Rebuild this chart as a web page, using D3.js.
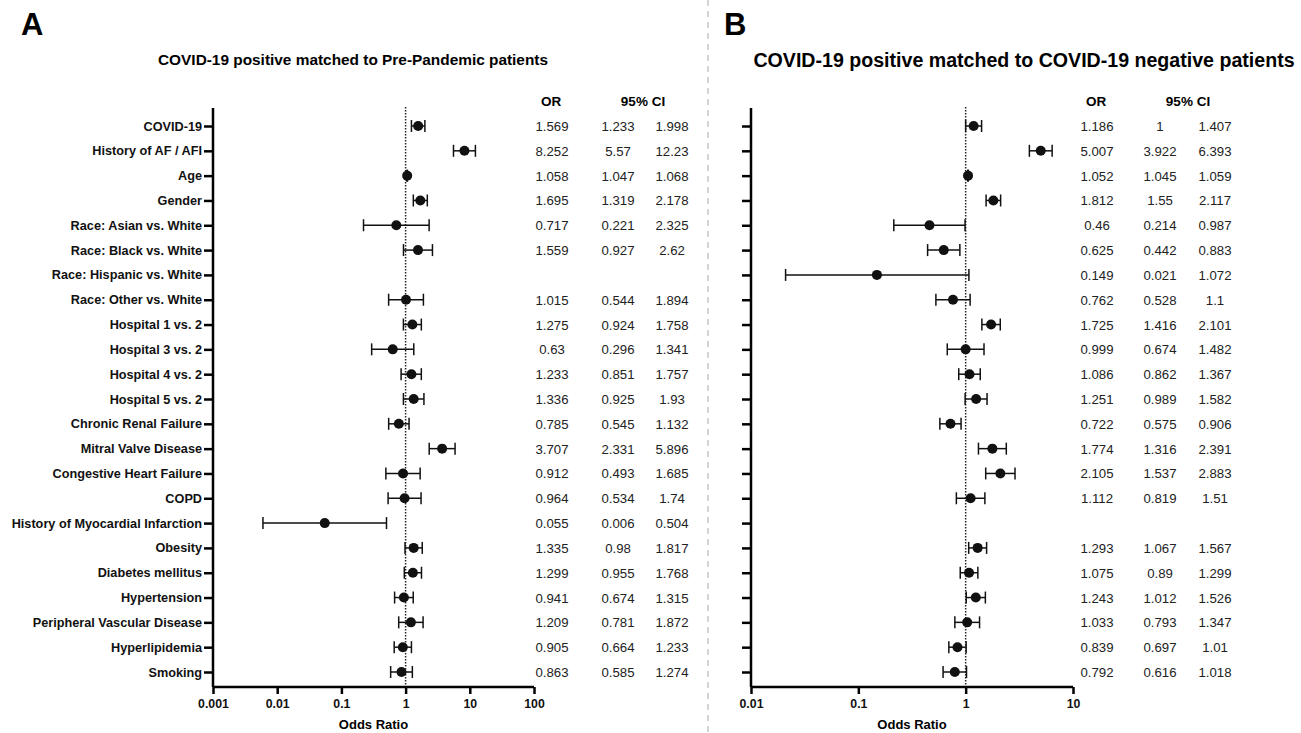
<!DOCTYPE html>
<html>
<head>
<meta charset="UTF-8">
<title>Odds ratios</title>
<style>
  body { margin: 0; background: #fff; }
  svg { font-family: "Liberation Sans", Arial, sans-serif; }
</style>
</head>
<body>
<script src="https://cdn.jsdelivr.net/npm/d3@7"></script>
<script>
// categories (same rows in both panels)
var categories = [
  "COVID-19", "History of AF / AFI", "Age", "Gender",
  "Race: Asian vs. White", "Race: Black vs. White", "Race: Hispanic vs. White",
  "Race: Other vs. White", "Hospital 1 vs. 2", "Hospital 3 vs. 2",
  "Hospital 4 vs. 2", "Hospital 5 vs. 2", "Chronic Renal Failure",
  "Mitral Valve Disease", "Congestive Heart Failure", "COPD",
  "History of Myocardial Infarction", "Obesity", "Diabetes mellitus",
  "Hypertension", "Peripheral Vascular Disease", "Hyperlipidemia", "Smoking"
];

// panel A: COVID-19 positive vs pre-pandemic
var orA    = [1.569, 8.252, 1.058, 1.695, 0.717, 1.559, null, 1.015, 1.275, 0.63, 1.233, 1.336, 0.785, 3.707, 0.912, 0.964, 0.055, 1.335, 1.299, 0.941, 1.209, 0.905, 0.863];
var lowA   = [1.233, 5.57, 1.047, 1.319, 0.221, 0.927, null, 0.544, 0.924, 0.296, 0.851, 0.925, 0.545, 2.331, 0.493, 0.534, 0.006, 0.98, 0.955, 0.674, 0.781, 0.664, 0.585];
var highA  = [1.998, 12.23, 1.068, 2.178, 2.325, 2.62, null, 1.894, 1.758, 1.341, 1.757, 1.93, 1.132, 5.896, 1.685, 1.74, 0.504, 1.817, 1.768, 1.315, 1.872, 1.233, 1.274];

// panel B: COVID-19 positive vs COVID-19 negative
var orB    = [1.186, 5.007, 1.052, 1.812, 0.46, 0.625, 0.149, 0.762, 1.725, 0.999, 1.086, 1.251, 0.722, 1.774, 2.105, 1.112, null, 1.293, 1.075, 1.243, 1.033, 0.839, 0.792];
var lowB   = [1, 3.922, 1.045, 1.55, 0.214, 0.442, 0.021, 0.528, 1.416, 0.674, 0.862, 0.989, 0.575, 1.316, 1.537, 0.819, null, 1.067, 0.89, 1.012, 0.793, 0.697, 0.616];
var highB  = [1.407, 6.393, 1.059, 2.117, 0.987, 0.883, 1.072, 1.1, 2.101, 1.482, 1.367, 1.582, 0.906, 2.391, 2.883, 1.51, null, 1.567, 1.299, 1.526, 1.347, 1.01, 1.018];

var ticksA = [0.001, 0.01, 0.1, 1, 10, 100];
var ticksB = [0.01, 0.1, 1, 10];

var W = 1301, H = 733;
var svg = d3.select("body").append("svg")
  .attr("width", W)
  .attr("height", H);

// dashed separator between panels
svg.append("line")
  .attr("x1", 708).attr("x2", 708)
  .attr("y1", 0).attr("y2", H)
  .attr("stroke", "#aaa")
  .attr("stroke-width", 1)
  .attr("stroke-dasharray", "6,5");

var y = d3.scalePoint()
  .domain(categories)
  .range([126, 672]);

function drawPanel(opt) {
  var g = svg.append("g");
  var x = d3.scaleLog()
    .domain(opt.domain)
    .range(opt.range);

  // panel letter
  g.append("text")
    .attr("x", opt.letterX).attr("y", 35)
    .attr("font-size", 31).attr("font-weight", "bold")
    .text(opt.letter);

  // title
  g.append("text")
    .attr("x", opt.titleX).attr("y", opt.titleY)
    .attr("text-anchor", "middle")
    .attr("font-size", opt.titleSize).attr("font-weight", "bold")
    .text(opt.title);

  // reference line at OR = 1
  g.append("line")
    .attr("x1", x(1)).attr("x2", x(1))
    .attr("y1", 107).attr("y2", 687)
    .attr("stroke", "#222")
    .attr("stroke-width", 1.5)
    .attr("stroke-dasharray", "1.5,1.5");

  // y axis
  var yAxis = g.append("g")
    .attr("transform", "translate(" + opt.range[0] + ",0)")
    .call(d3.axisLeft(y).tickSize(9).tickPadding(2).tickFormat(opt.showLabels ? null : ""));
  yAxis.select(".domain").attr("d", "M0,108V687").attr("stroke-width", 2.5);
  yAxis.selectAll(".tick line").attr("stroke-width", 2.5);
  yAxis.selectAll("text")
    .attr("font-size", 12.7).attr("font-weight", "bold")
    .attr("fill", "#111")
    .attr("font-family", "Liberation Sans, Arial, sans-serif");

  // x axis
  var xAxis = g.append("g")
    .attr("transform", "translate(0,687)")
    .call(d3.axisBottom(x).tickValues(opt.ticks).tickSize(7).tickPadding(5)
      .tickFormat(function(d) { return String(d); }));
  xAxis.select(".domain").attr("d", "M" + opt.range[0] + ",0H" + opt.range[1]).attr("stroke-width", 2.5);
  xAxis.selectAll(".tick line").attr("stroke-width", 2.5);
  xAxis.selectAll("text")
    .attr("font-size", 12.3).attr("font-weight", "bold")
    .attr("fill", "#111")
    .attr("font-family", "Liberation Sans, Arial, sans-serif");

  g.append("text")
    .attr("x", (opt.range[0] + opt.range[1]) / 2).attr("y", 729)
    .attr("text-anchor", "middle")
    .attr("font-size", 13).attr("font-weight", "bold")
    .text("Odds Ratio");

  var rows = categories.map(function(c, i) {
    return { cat: c, or: opt.or[i], lo: opt.lo[i], hi: opt.hi[i] };
  }).filter(function(d) { return d.or != null; });

  var marks = g.append("g").selectAll("g")
    .data(rows).enter().append("g");

  marks.append("line")
    .attr("x1", function(d) { return x(d.lo); })
    .attr("x2", function(d) { return x(d.hi); })
    .attr("y1", function(d) { return y(d.cat); })
    .attr("y2", function(d) { return y(d.cat); })
    .attr("stroke", "#111").attr("stroke-width", 1.5);
  marks.append("line")
    .attr("x1", function(d) { return x(d.lo); })
    .attr("x2", function(d) { return x(d.lo); })
    .attr("y1", function(d) { return y(d.cat) - 6; })
    .attr("y2", function(d) { return y(d.cat) + 6; })
    .attr("stroke", "#111").attr("stroke-width", 1.5);
  marks.append("line")
    .attr("x1", function(d) { return x(d.hi); })
    .attr("x2", function(d) { return x(d.hi); })
    .attr("y1", function(d) { return y(d.cat) - 6; })
    .attr("y2", function(d) { return y(d.cat) + 6; })
    .attr("stroke", "#111").attr("stroke-width", 1.5);
  marks.append("circle")
    .attr("cx", function(d) { return x(d.or); })
    .attr("cy", function(d) { return y(d.cat); })
    .attr("r", 5)
    .attr("fill", "#111");

  // table
  var th = g.append("g").attr("font-size", 13.5).attr("font-weight", "bold").attr("text-anchor", "middle");
  th.append("text").attr("x", opt.colX[0] - 1).attr("y", 106).text("OR");
  th.append("text").attr("x", opt.ciX).attr("y", 106).text("95% CI");

  var tb = g.append("g").attr("font-size", 13.2).attr("fill", "#222").attr("text-anchor", "middle");
  ["or", "lo", "hi"].forEach(function(k, j) {
    tb.selectAll("text.c" + j)
      .data(rows).enter().append("text")
      .attr("class", "c" + j)
      .attr("x", opt.colX[j])
      .attr("y", function(d) { return y(d.cat) + 5; })
      .text(function(d) { return String(d[k]); });
  });
}

drawPanel({
  letter: "A", letterX: 21,
  title: "COVID-19 positive matched to Pre-Pandemic patients", titleX: 353, titleY: 65, titleSize: 15.4,
  domain: [0.001, 100], range: [213, 534], ticks: ticksA,
  or: orA, lo: lowA, hi: highA, showLabels: true,
  colX: [552, 618, 672], ciX: 643
});

drawPanel({
  letter: "B", letterX: 724,
  title: "COVID-19 positive matched to COVID-19 negative patients", titleX: 1024, titleY: 67, titleSize: 19.6,
  domain: [0.01, 10], range: [751, 1073], ticks: ticksB,
  or: orB, lo: lowB, hi: highB, showLabels: false,
  colX: [1097, 1160, 1215], ciX: 1188
});
</script>
</body>
</html>
